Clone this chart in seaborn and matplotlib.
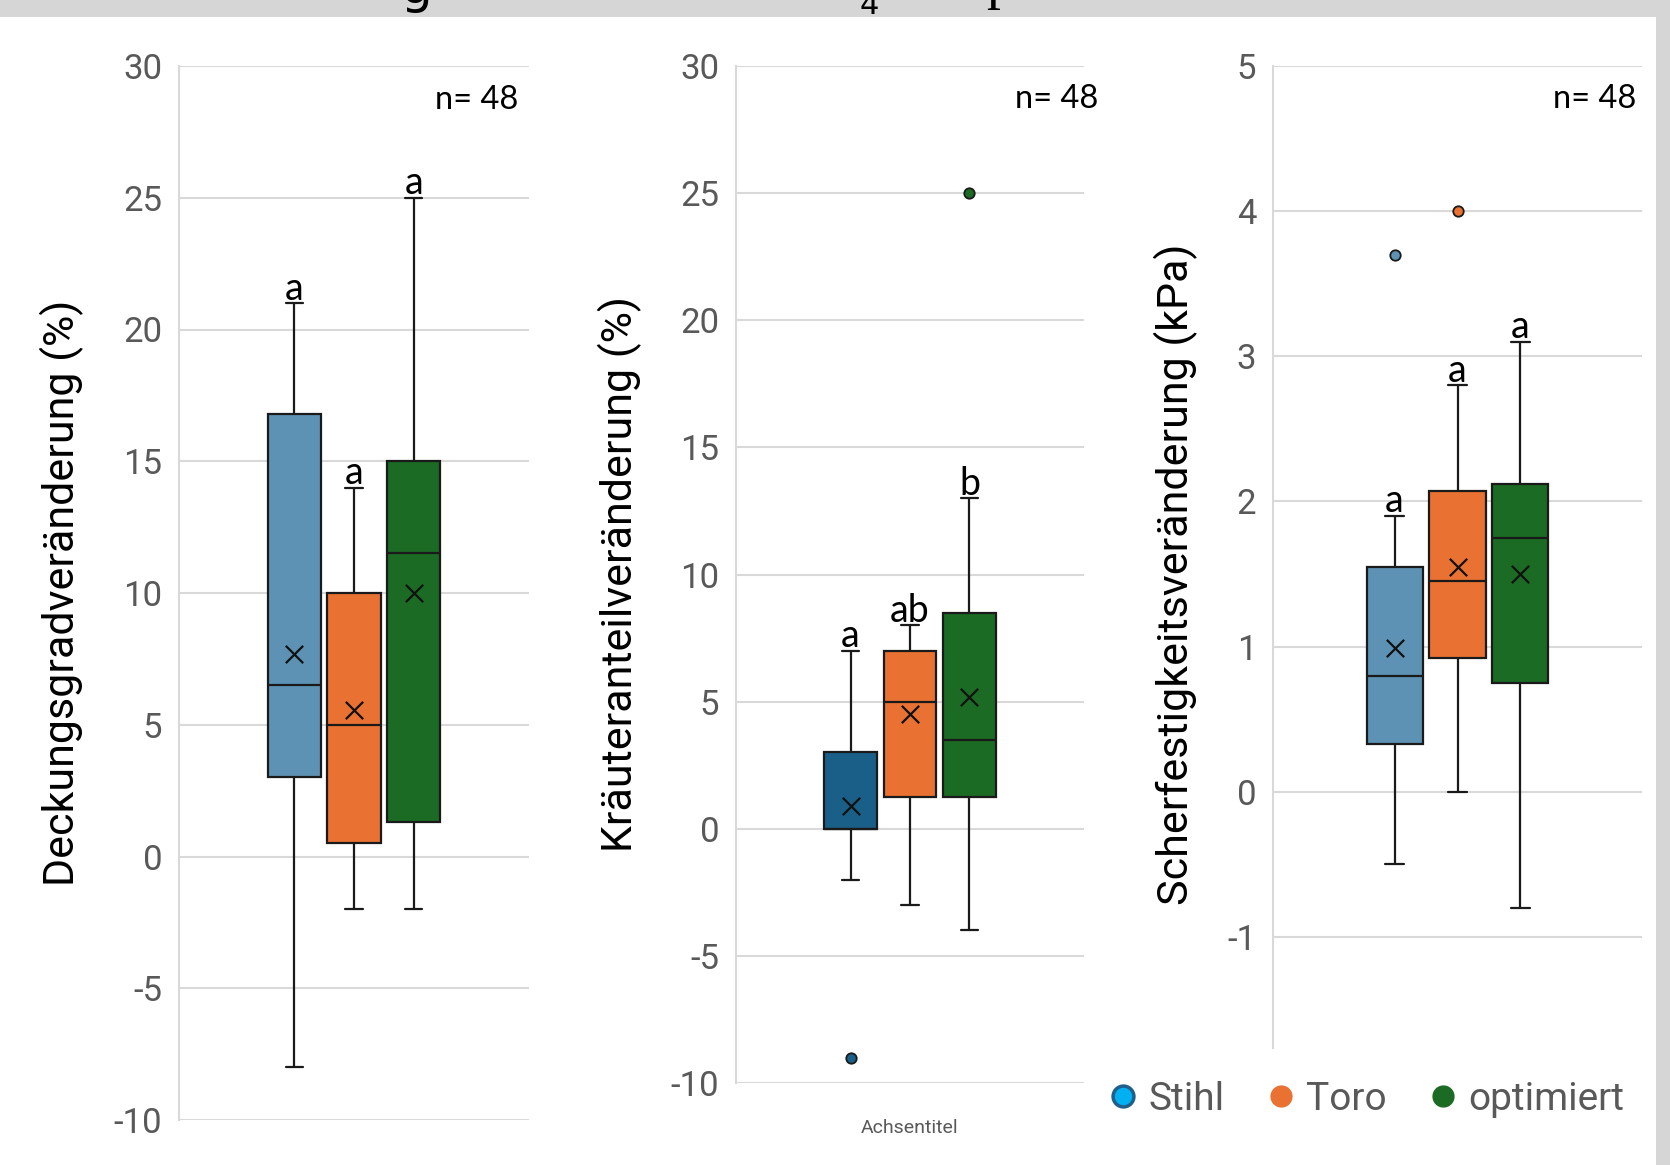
import numpy as np
import pandas as pd
import matplotlib.pyplot as plt
import seaborn as sns
from matplotlib.lines import Line2D
from matplotlib.patches import Rectangle

gruppen = ['Stihl', 'Toro', 'optimiert']

# je Gruppe: [min, Q1, Median, Q3, max]
deckung_box = [[-8, 3, 6.5, 16.8, 21], [-2, 0.5, 5, 10, 14], [-2, 1.3, 11.5, 15, 25]]
deckung_mittel = [7.7, 5.55, 10.0]
deckung_ausreisser = [[], [], []]
deckung_buchst = ['a', 'a', 'a']

kraeuter_box = [[-2, 0, 0, 3, 7], [-3, 1.25, 5, 7, 8], [-4, 1.25, 3.5, 8.5, 13]]
kraeuter_mittel = [0.9, 4.5, 5.2]
kraeuter_ausreisser = [[-9], [], [25]]
kraeuter_buchst = ['a', 'ab', 'b']

scher_box = [[-0.5, 0.33, 0.8, 1.55, 1.9], [0, 0.92, 1.45, 2.07, 2.8], [-0.8, 0.75, 1.75, 2.12, 3.1]]
scher_mittel = [0.99, 1.55, 1.5]
scher_ausreisser = [[3.7], [4.0], []]
scher_buchst = ['a', 'a', 'a']

n_text = 'n= 48'

sns.set_style('white')
plt.rcParams['font.family'] = ['Roboto', 'DejaVu Sans']
plt.rcParams['axes.unicode_minus'] = False

W, H = 1670, 1165
fig = plt.figure(figsize=(W / 100, H / 100), dpi=100)


def rect(l, t, r, b):
    return [l / W, 1 - b / H, (r - l) / W, (b - t) / H]


panels = [
    dict(box=deckung_box, mittel=deckung_mittel, aus=deckung_ausreisser, buchst=deckung_buchst,
         ylabel='Deckungsgradveränderung (%)', ylim=(-10, 30), ticks=list(range(-10, 31, 5)),
         hidden=[], stihl='#5e92b4', pos=rect(179, 66, 529, 1120), labx=-0.334, nx=0.97, xlabel=''),
    dict(box=kraeuter_box, mittel=kraeuter_mittel, aus=kraeuter_ausreisser, buchst=kraeuter_buchst,
         ylabel='Kräuteranteilveränderung (%)', ylim=(-10, 30), ticks=list(range(-10, 31, 5)),
         hidden=[], stihl='#195f87', pos=rect(736, 66, 1084, 1083), labx=-0.333, nx=1.04,
         xlabel='Achsentitel'),
    dict(box=scher_box, mittel=scher_mittel, aus=scher_ausreisser, buchst=scher_buchst,
         ylabel='Scherfestigkeitsveränderung (kPa)', ylim=(-2, 5), ticks=list(range(-2, 6)),
         hidden=[-2], stihl='#5e92b4', pos=rect(1273, 66, 1642, 1082), labx=-0.263, nx=0.986,
         xlabel=''),
]

for p in panels:
    ax = fig.add_axes(p['pos'])
    farben = dict(zip(gruppen, [p['stihl'], '#e97132', '#1b6b24']))

    df = pd.DataFrame({'Gruppe': np.repeat(gruppen, 5), 'Wert': np.concatenate(p['box'])})
    sns.boxplot(data=df, x='Gruppe', y='Wert', hue='Gruppe', order=gruppen, hue_order=gruppen,
                palette=farben, whis=(0, 100), width=0.89, saturation=1, linecolor='#1a1a1a',
                linewidth=1.6, legend=False, ax=ax)

    # kurze Whisker-Enden wie in Excel
    for ln in ax.lines:
        x, y = np.asarray(ln.get_xdata(), float), np.asarray(ln.get_ydata(), float)
        if len(x) == 2 and y[0] == y[1] and abs(x[1] - x[0]) < 0.75:
            c = x.mean()
            ln.set_xdata([c - 0.145, c + 0.145])

    mdf = pd.DataFrame({'Gruppe': gruppen, 'Mittel': p['mittel']})
    sns.stripplot(data=mdf, x='Gruppe', y='Mittel', order=gruppen, jitter=False, marker='x',
                  color='#111111', size=12.5, linewidth=1.6, ax=ax)

    og = [g for g, a in zip(gruppen, p['aus']) for _ in a]
    ov = [v for a in p['aus'] for v in a]
    if ov:
        odf = pd.DataFrame({'Gruppe': og, 'Wert': ov})
        sns.stripplot(data=odf, x='Gruppe', y='Wert', hue='Gruppe', order=gruppen,
                      hue_order=gruppen, palette=farben, jitter=False, size=7.5,
                      edgecolor='#1a1a1a', linewidth=1.3, legend=False, ax=ax)

    for i, (b, t) in enumerate(zip(p['box'], p['buchst'])):
        ax.annotate(t, (i, b[4]), xytext=(0, 2.5), textcoords='offset points', ha='center',
                    va='baseline', fontsize=27, family='Lato', color='black')

    ax.text(p['nx'], 0.968, n_text, transform=ax.transAxes, ha='right', va='center',
            fontsize=23.5, family='Lato', color='black')

    ax.set_xlim(1 - 2.93, 1 + 2.93)
    ax.set_ylim(*p['ylim'])
    ax.set_yticks(p['ticks'])
    ax.set_yticklabels(['' if t in p['hidden'] else str(t) for t in p['ticks']],
                       fontsize=25, color='#595959')
    ax.set_xticks([])
    ax.set_xlabel(p['xlabel'], fontsize=14, color='#595959', labelpad=26)
    ax.set_ylabel(p['ylabel'], fontsize=31, color='black', va='center')
    ax.yaxis.set_label_coords(p['labx'], 0.5)
    ax.tick_params(axis='y', length=0, pad=12)
    ax.yaxis.grid(True, color='#d9d9d9', linewidth=1.5)
    ax.set_axisbelow(True)
    for s in ['top', 'right', 'bottom']:
        ax.spines[s].set_visible(False)
    ax.spines['left'].set_color('#d9d9d9')
    ax.spines['left'].set_linewidth(1.5)

# Legendenfeld überdeckt den unteren Teil des dritten Diagramms
fig.add_artist(Rectangle((1085 / W, 0), (1656 - 1085) / W, (H - 1049) / H,
                         transform=fig.transFigure, facecolor='white', edgecolor='none', zorder=5))

handles = [
    Line2D([], [], ls='', marker='o', ms=15, mfc='#00b0f0', mec='#1f5f8b', mew=2.5),
    Line2D([], [], ls='', marker='o', ms=15, mfc='#e97132', mec='#e97132'),
    Line2D([], [], ls='', marker='o', ms=15, mfc='#1b6b24', mec='#1b6b24'),
]
leg = fig.legend(handles, gruppen, loc='center', bbox_to_anchor=(1364 / W, 1 - 1099 / H), ncol=3,
                 frameon=False, fontsize=28, handletextpad=0.15, columnspacing=0.95,
                 handlelength=1.0, labelcolor='#595959')
leg.set_zorder(6)

# oberer Rand des Screenshots und rechter Rand
fig.add_artist(Rectangle((0, 1 - 17 / H), 1, 17 / H, transform=fig.transFigure,
                         facecolor='#d6d6d6', edgecolor='none', zorder=7))
fig.add_artist(Rectangle((1656 / W, 0), 14 / W, 1 - 17 / H, transform=fig.transFigure,
                         facecolor='#d6d6d6', edgecolor='none', zorder=7))
fig.text(416 / W, 1 - 3 / H, 'g', fontsize=36, family='DejaVu Sans', color='black',
         ha='center', va='baseline', zorder=8)
fig.text(869 / W, 1 - 14 / H, '4', fontsize=22, family='DejaVu Sans', color='black',
         ha='center', va='baseline', zorder=8)
fig.text(1000 / W, 1 + 2 / H, 'p', fontsize=40, family='Liberation Serif', color='black',
         ha='center', va='baseline', zorder=8)

fig.savefig('out.png', dpi=100, facecolor='white')
